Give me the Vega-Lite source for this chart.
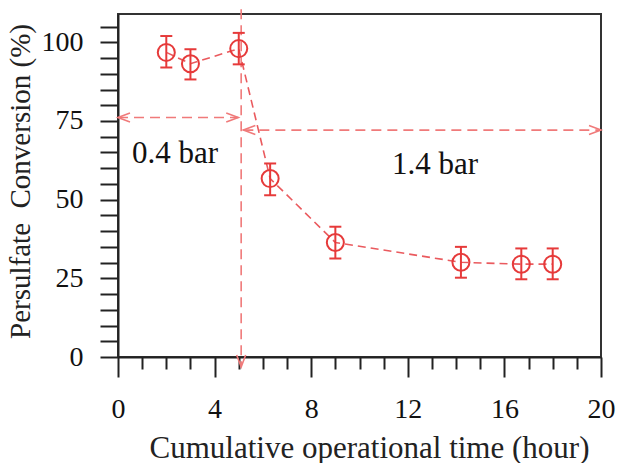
{
  "$schema": "https://vega.github.io/schema/vega-lite/v6.json",
  "width": 483,
  "height": 343,
  "autosize": "none",
  "padding": {"left": 118, "top": 14, "right": 16, "bottom": 106},
  "background": "white",
  "config": {
    "view": {"stroke": "#333333", "strokeWidth": 2},
    "axis": {
      "labelFont": "Liberation Serif",
      "labelFontSize": 28,
      "labelColor": "#111111",
      "labelFlush": false,
      "titleFont": "Liberation Serif",
      "titleFontSize": 31,
      "titleFontWeight": "normal",
      "titleColor": "#222222",
      "domainColor": "#222222",
      "domainWidth": 2,
      "tickColor": "#222222",
      "tickWidth": 2,
      "grid": false
    }
  },
  "datasets": {
    "points": [
      {"t": 2.0, "c": 96.8, "lo": 92.0, "hi": 102.0},
      {"t": 3.0, "c": 93.2, "lo": 88.2, "hi": 97.8},
      {"t": 5.0, "c": 98.0, "lo": 93.0, "hi": 103.0},
      {"t": 6.3, "c": 56.7, "lo": 51.4, "hi": 61.5},
      {"t": 9.0, "c": 36.4, "lo": 31.3, "hi": 41.4},
      {"t": 14.2, "c": 30.1, "lo": 25.2, "hi": 35.0},
      {"t": 16.7, "c": 29.5, "lo": 24.7, "hi": 34.5},
      {"t": 18.0, "c": 29.5, "lo": 24.7, "hi": 34.5}
    ],
    "segments": [
      {"x1": 5.1, "x2": 5.1, "y1": 110.5, "y2": -3.2},
      {"x1": 0, "x2": 4.98, "y1": 76.1, "y2": 76.1},
      {"x1": 5.19, "x2": 20, "y1": 72.1, "y2": 72.1}
    ],
    "heads": [
      {"x": 0, "y": 76.1, "dir": "left"},
      {"x": 4.98, "y": 76.1, "dir": "right"},
      {"x": 5.19, "y": 72.1, "dir": "left"},
      {"x": 20, "y": 72.1, "dir": "right"},
      {"x": 5.1, "y": -3.2, "dir": "down"}
    ],
    "labels": [
      {"x": 2.36, "y": 61.5, "text": "0.4 bar"},
      {"x": 13.13, "y": 58.3, "text": "1.4 bar"}
    ]
  },
  "encoding": {
    "x": {
      "type": "quantitative",
      "scale": {"domain": [0, 20], "nice": false, "zero": false},
      "axis": {
        "title": "Cumulative operational time (hour)",
        "values": [0,1,2,3,4,5,6,7,8,9,10,11,12,13,14,15,16,17,18,19,20],
        "labelExpr": "datum.value % 4 === 0 ? datum.label : ''",
        "tickSize": {"condition": {"test": "datum.value % 4 === 0", "value": 20}, "value": 12},
        "labelPadding": 18,
        "titleX": 251,
        "titleY": 100,
        "titleBaseline": "alphabetic",
        "titleAlign": "center"
      }
    },
    "y": {
      "type": "quantitative",
      "scale": {"domain": [0, 109], "nice": false, "zero": false},
      "axis": {
        "title": "Persulfate\u00a0 Conversion (%)",
        "titleFontSize": 29,
        "values": [0,5,10,15,20,25,30,35,40,45,50,55,60,65,70,75,80,85,90,95,100,105],
        "labelExpr": "datum.value % 25 === 0 ? datum.label : ''",
        "tickSize": 18,
        "labelPadding": 17,
        "titleX": -89,
        "titleY": 167,
        "titleBaseline": "alphabetic",
        "titleAlign": "center"
      }
    }
  },
  "layer": [
    {
      "data": {"name": "segments"},
      "mark": {"type": "rule", "color": "#f07a7a", "strokeWidth": 1.6, "strokeDash": [10, 6], "clip": false},
      "encoding": {
        "x": {"field": "x1"},
        "x2": {"field": "x2"},
        "y": {"field": "y1"},
        "y2": {"field": "y2"}
      }
    },
    {
      "data": {"name": "heads"},
      "mark": {"type": "point", "filled": false, "color": "#f07a7a", "strokeWidth": 1.6, "size": 144, "opacity": 1, "clip": false},
      "encoding": {
        "x": {"field": "x"},
        "y": {"field": "y"},
        "shape": {
          "field": "dir",
          "type": "nominal",
          "legend": null,
          "scale": {
            "domain": ["left", "right", "down"],
            "range": ["M 2 -0.75 L 0 0 L 2 0.75", "M -2 -0.75 L 0 0 L -2 0.75", "M -0.75 -2 L 0 0 L 0.75 -2"]
          }
        }
      }
    },
    {
      "data": {"name": "points"},
      "mark": {"type": "line", "color": "#ea5a5e", "strokeWidth": 1.6, "strokeDash": [8, 5]},
      "encoding": {
        "x": {"field": "t"},
        "y": {"field": "c"}
      }
    },
    {
      "data": {"name": "points"},
      "mark": {"type": "rule", "color": "#e63a3a", "strokeWidth": 2},
      "encoding": {
        "x": {"field": "t"},
        "y": {"field": "lo"},
        "y2": {"field": "hi"}
      }
    },
    {
      "data": {"name": "points"},
      "mark": {"type": "tick", "orient": "horizontal", "color": "#e63a3a", "thickness": 2, "size": 12, "opacity": 1},
      "encoding": {
        "x": {"field": "t"},
        "y": {"field": "lo"}
      }
    },
    {
      "data": {"name": "points"},
      "mark": {"type": "tick", "orient": "horizontal", "color": "#e63a3a", "thickness": 2, "size": 12, "opacity": 1},
      "encoding": {
        "x": {"field": "t"},
        "y": {"field": "hi"}
      }
    },
    {
      "data": {"name": "points"},
      "mark": {"type": "point", "shape": "circle", "filled": false, "color": "#e63a3a", "strokeWidth": 2, "size": 290, "opacity": 1},
      "encoding": {
        "x": {"field": "t"},
        "y": {"field": "c"}
      }
    },
    {
      "data": {"name": "labels"},
      "mark": {"type": "text", "font": "Liberation Serif", "fontSize": 31, "color": "#111111", "align": "center", "baseline": "alphabetic"},
      "encoding": {
        "x": {"field": "x"},
        "y": {"field": "y"},
        "text": {"field": "text"}
      }
    }
  ]
}
